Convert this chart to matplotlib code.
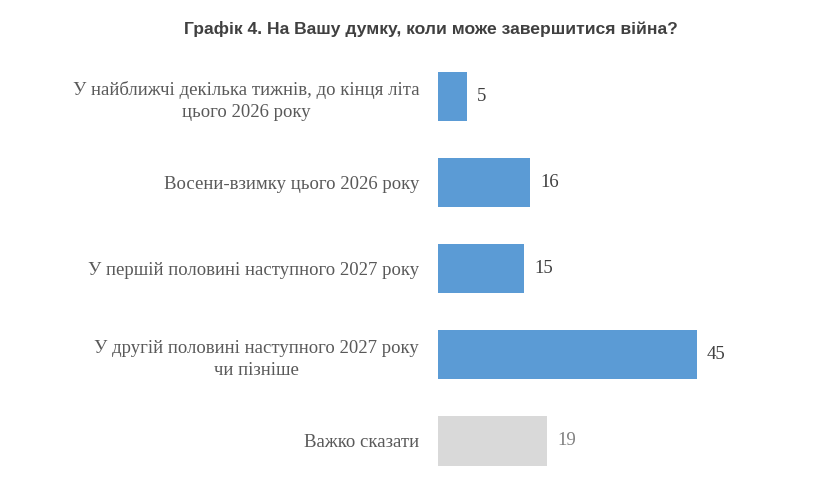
import matplotlib.pyplot as plt

plt.rcParams['font.family'] = ['Liberation Serif', 'DejaVu Serif']

title = 'Графік 4. На Вашу думку, коли може завершитися війна?'
categories = [
    'У найближчі декілька тижнів, до кінця літа\nцього 2026 року',
    'Восени-взимку цього 2026 року',
    'У першій половині наступного 2027 року',
    'У другій половині наступного 2027 року\nчи пізніше',
    'Важко сказати',
]
values = [5, 16, 15, 45, 19]
bar_colors = ['#5B9BD5', '#5B9BD5', '#5B9BD5', '#5B9BD5', '#D9D9D9']
value_colors = ['#404040', '#404040', '#404040', '#404040', '#808080']

fig = plt.figure(figsize=(8.32, 4.79), dpi=100)
ax = fig.add_axes([0.5264, 0.0075, 0.4147, 0.8808])

pos = list(range(len(categories)))
ax.barh(pos, values, height=0.57, color=bar_colors)
ax.set_xlim(0, 60)
ax.set_ylim(4.4, -0.5)

ax.set_yticks(pos)
ax.set_yticklabels(categories, fontsize=13.5, color='#595959', multialignment='center',
                   linespacing=1.4)
ax.tick_params(axis='y', length=0, pad=13.5)
ax.set_xticks([])
for s in ax.spines.values():
    s.set_visible(False)

for p, v, c in zip(pos, values, value_colors):
    ax.text(v + 1.8, p, str(v), va='center', ha='left', fontsize=13.5, color=c)

fig.text(0.518, 0.94, title, ha='center', va='center', fontsize=12.6, fontweight='bold',
         color='#404040', family=['Liberation Sans', 'DejaVu Sans'])

fig.savefig('out.png', dpi=100)
